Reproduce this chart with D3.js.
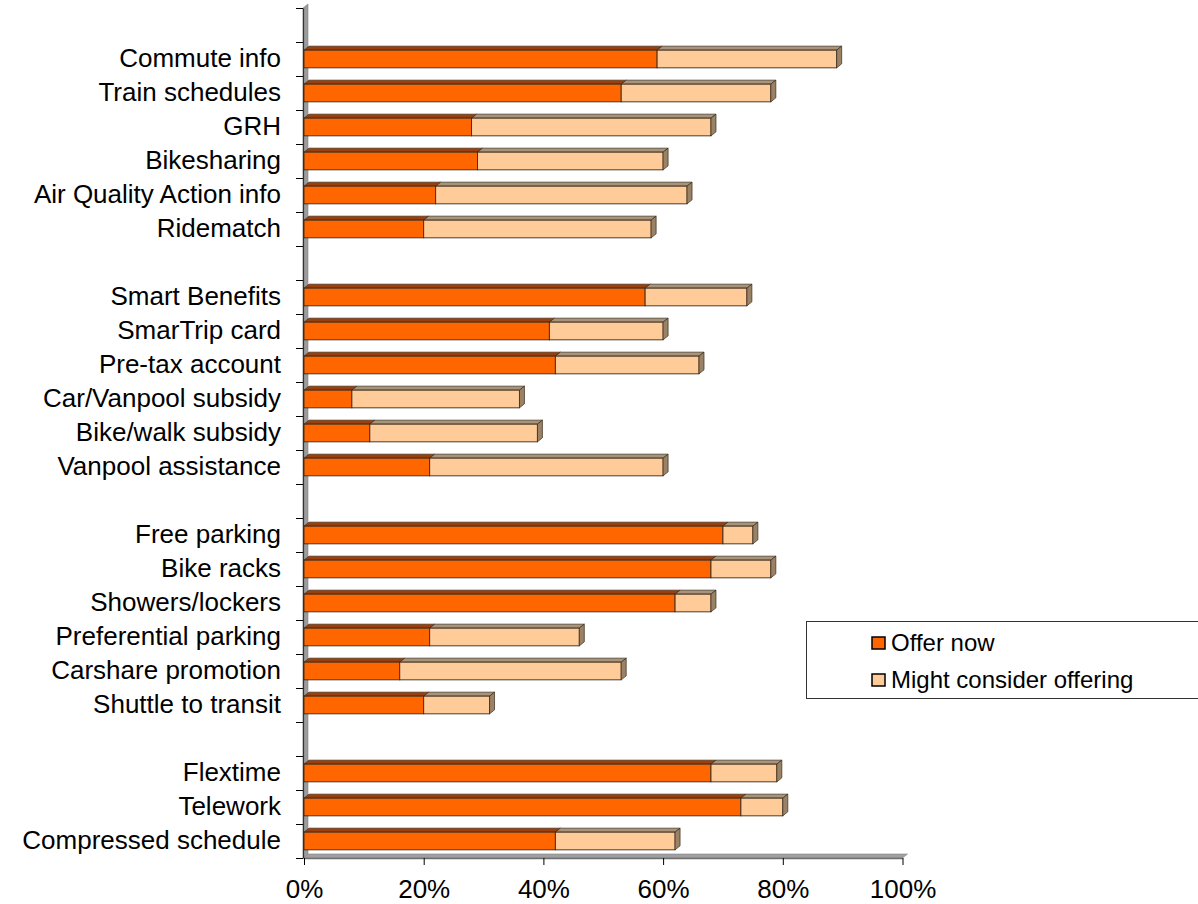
<!DOCTYPE html>
<html>
<head>
<meta charset="utf-8">
<script src="https://cdn.jsdelivr.net/npm/d3@7"></script>
<style>
  html, body { margin: 0; padding: 0; background: #fff; }
  svg { display: block; font-family: "Liberation Sans", Arial, sans-serif; }
</style>
</head>
<body>
<svg id="chart" width="1198" height="904"></svg>
<script>
// Employer commute programs: share offering now vs. might consider (percent)
const categories = [
  "", "Commute info", "Train schedules", "GRH", "Bikesharing", "Air Quality Action info", "Ridematch",
  "", "Smart Benefits", "SmarTrip card", "Pre-tax account", "Car/Vanpool subsidy", "Bike/walk subsidy", "Vanpool assistance",
  "", "Free parking", "Bike racks", "Showers/lockers", "Preferential parking", "Carshare promotion", "Shuttle to transit",
  "", "Flextime", "Telework", "Compressed schedule"
];
const offerNow = [
  null, 59, 53, 28, 29, 22, 20,
  null, 57, 41, 42, 8, 11, 21,
  null, 70, 68, 62, 21, 16, 20,
  null, 68, 73, 42
];
const mightConsider = [
  null, 30, 25, 40, 31, 42, 38,
  null, 17, 19, 24, 28, 28, 39,
  null, 5, 10, 6, 25, 37, 11,
  null, 11, 7, 20
];
const seriesNames = ["Offer now", "Might consider offering"];
const xTicks = [0, 20, 40, 60, 80, 100];

const svg = d3.select("#chart");
const x = d3.scaleLinear().domain([0, 100]).range([304, 902.5]);
const y = d3.scaleBand().domain(d3.range(categories.length)).range([8, 858]).padding(0);
const yEdge = d3.scaleLinear().domain([0, categories.length]).range([8, 858]);

const dx = 5, dy = -4;                 // 3D depth offset
const barH = y.bandwidth() * 0.52;

const faces = [
  { front: "#FF6600", top: "#9E3E08", side: "#8A3A10" },
  { front: "#FFCC99", top: "#A8947A", side: "#9A8266" }
];

// back wall and floor
svg.append("polygon")
  .attr("points", [[x(0) - 1, yEdge(0)], [x(0) - 1 + dx, yEdge(0) + dy], [x(0) - 1 + dx, yEdge(25) + dy], [x(0) - 1, yEdge(25)]].join(" "))
  .attr("fill", "#9C9C9C").attr("stroke", "#808080").attr("stroke-width", 0.6);
svg.append("polygon")
  .attr("points", [[x(0) - 1, yEdge(25)], [x(100), yEdge(25)], [x(100) + dx, yEdge(25) + dy], [x(0) - 1 + dx, yEdge(25) + dy]].join(" "))
  .attr("fill", "#A0A0A0").attr("stroke", "#808080").attr("stroke-width", 0.6);

// category axis
const yAxis = d3.axisLeft(yEdge).tickValues(d3.range(categories.length + 1)).tickFormat("").tickSize(7).tickSizeOuter(0);
const gy = svg.append("g").attr("transform", `translate(${x(0) - 1},0)`).call(yAxis);
gy.select(".domain").attr("stroke", "#333").attr("stroke-width", 1.2);
gy.selectAll(".tick line").attr("stroke", "#000");

// value axis
const xAxis = d3.axisBottom(x).tickValues(xTicks).tickFormat(d => d + "%").tickSize(7).tickSizeOuter(0);
const gx = svg.append("g").attr("transform", `translate(0,${yEdge(25)})`).call(xAxis);
gx.select(".domain").attr("stroke", "#707070").attr("stroke-width", 1.5);
gx.selectAll(".tick line").attr("stroke", "#000");
gx.selectAll(".tick text").attr("font-size", 26).attr("fill", "#000").attr("dy", 0).attr("y", 40)
  .attr("font-family", "Liberation Sans, Arial, sans-serif");

// category labels
svg.append("g").selectAll("text")
  .data(categories.map((c, i) => ({ c, i })).filter(d => d.c))
  .join("text")
  .attr("x", 281)
  .attr("y", d => y(d.i) + y.bandwidth() / 2)
  .attr("dy", "0.3em")
  .attr("text-anchor", "end")
  .attr("font-size", 26)
  .attr("fill", "#000")
  .text(d => d.c);

// stacked 3D bars
const rows = categories.map((c, i) => ({ i, v: [offerNow[i], mightConsider[i]] })).filter(d => d.v[0] != null);
const gb = svg.append("g");
rows.forEach(r => {
  const yc = y(r.i) + y.bandwidth() / 2;
  const y0 = yc - barH / 2, y1 = yc + barH / 2;
  let acc = 0;
  const segs = r.v.map((v, k) => { const s = { k, a: acc, b: acc + v }; acc += v; return s; });
  segs.forEach(s => {
    const xa = x(s.a), xb = x(s.b);
    gb.append("polygon")
      .attr("points", [[xa, y0], [xb, y0], [xb + dx, y0 + dy], [xa + dx, y0 + dy]].join(" "))
      .attr("fill", faces[s.k].top).attr("stroke", "#3a2a1a").attr("stroke-width", 0.7);
    gb.append("rect")
      .attr("x", xa).attr("y", y0).attr("width", xb - xa).attr("height", barH)
      .attr("fill", faces[s.k].front).attr("stroke", "#3a2a1a").attr("stroke-width", 0.9);
  });
  const last = segs[segs.length - 1];
  const xe = x(last.b);
  gb.append("polygon")
    .attr("points", [[xe, y0], [xe + dx, y0 + dy], [xe + dx, y1 + dy], [xe, y1]].join(" "))
    .attr("fill", faces[last.k].side).attr("stroke", "#3a2a1a").attr("stroke-width", 0.7);
});

// legend
const lg = svg.append("g");
lg.append("rect").attr("x", 806.5).attr("y", 621.5).attr("width", 420).attr("height", 77)
  .attr("fill", "#fff").attr("stroke", "#333").attr("stroke-width", 1);
seriesNames.forEach((name, k) => {
  const cy = 643 + k * 37;
  lg.append("rect").attr("x", 872).attr("y", cy - 6).attr("width", 13).attr("height", 12)
    .attr("fill", faces[k].front).attr("stroke", "#000").attr("stroke-width", 1.5);
  lg.append("text").attr("x", 891).attr("y", cy).attr("dy", "0.35em")
    .attr("font-size", 24).attr("fill", "#000").text(name);
});
</script>
</body>
</html>
